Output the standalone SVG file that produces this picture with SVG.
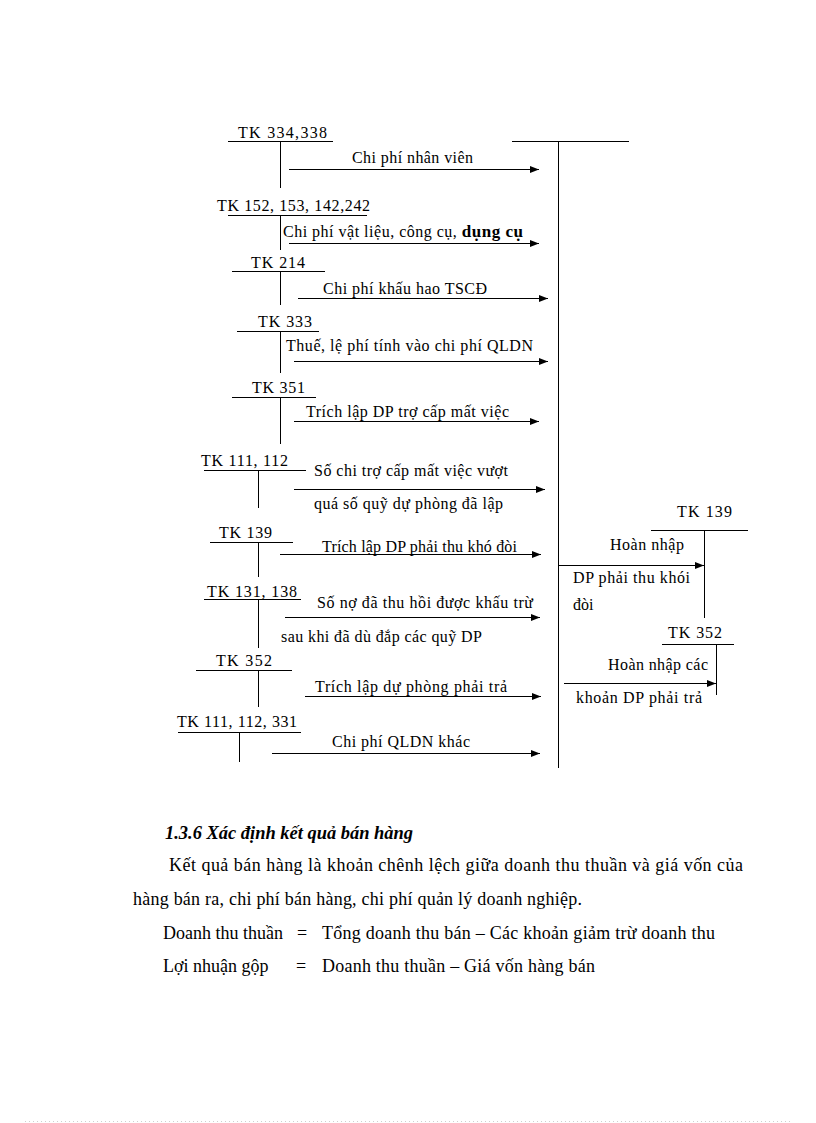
<svg xmlns="http://www.w3.org/2000/svg" width="816" height="1123" viewBox="0 0 816 1123">
<style>
.t{font-family:"Liberation Serif","Times New Roman",serif;font-size:16px;fill:#000}
.b{font-family:"Liberation Serif","Times New Roman",serif;font-size:18px;fill:#000}
.h{font-family:"Liberation Serif","Times New Roman",serif;font-size:18px;font-weight:bold;font-style:italic;fill:#000}
.ln{stroke:#000;stroke-width:1;fill:none}
.ar{stroke:#000;stroke-width:1;fill:none;marker-end:url(#ah)}
</style>
<defs>
<marker id="ah" markerUnits="userSpaceOnUse" markerWidth="9" markerHeight="7" refX="9" refY="3.5" orient="auto">
<path d="M0,0 L9,3.5 L0,7 z" fill="#000"/>
</marker>
</defs>
<rect width="816" height="1123" fill="#fff"/>

<g id="main-account">
<line class="ln" x1="512" y1="141.5" x2="629" y2="141.5"/>
<line class="ln" x1="558.5" y1="141" x2="558.5" y2="768"/>
</g>

<g id="tk334">
<text class="t" x="238" y="138" textLength="89" lengthAdjust="spacing">TK 334,338</text>
<line class="ln" x1="228" y1="141.5" x2="333" y2="141.5"/>
<line class="ln" x1="280.5" y1="141" x2="280.5" y2="188"/>
</g>
<g id="tk152">
<text class="t" x="217" y="211" textLength="153" lengthAdjust="spacing">TK 152, 153, 142,242</text>
<line class="ln" x1="228" y1="215.5" x2="367" y2="215.5"/>
<line class="ln" x1="280.5" y1="215" x2="280.5" y2="250"/>
</g>
<g id="tk214">
<text class="t" x="251" y="268" textLength="54" lengthAdjust="spacing">TK 214</text>
<line class="ln" x1="232" y1="271.5" x2="325" y2="271.5"/>
<line class="ln" x1="280.5" y1="271" x2="280.5" y2="305"/>
</g>
<g id="tk333">
<text class="t" x="258" y="327" textLength="54" lengthAdjust="spacing">TK 333</text>
<line class="ln" x1="237" y1="331.5" x2="319" y2="331.5"/>
<line class="ln" x1="280.5" y1="331" x2="280.5" y2="373"/>
</g>
<g id="tk351">
<text class="t" x="252" y="393" textLength="53" lengthAdjust="spacing">TK 351</text>
<line class="ln" x1="232" y1="397.5" x2="316" y2="397.5"/>
<line class="ln" x1="280.5" y1="397" x2="280.5" y2="444"/>
</g>
<g id="tk111-112">
<text class="t" x="201" y="466" textLength="87" lengthAdjust="spacing">TK 111, 112</text>
<line class="ln" x1="204" y1="470.5" x2="306" y2="470.5"/>
<line class="ln" x1="258.5" y1="470" x2="258.5" y2="508"/>
</g>
<g id="tk139-left">
<text class="t" x="219" y="538" textLength="53" lengthAdjust="spacing">TK 139</text>
<line class="ln" x1="210" y1="542.5" x2="293" y2="542.5"/>
<line class="ln" x1="258.5" y1="542" x2="258.5" y2="577"/>
</g>
<g id="tk131">
<text class="t" x="207" y="597" textLength="90" lengthAdjust="spacing">TK 131, 138</text>
<line class="ln" x1="204" y1="599.5" x2="301" y2="599.5"/>
<line class="ln" x1="258.5" y1="599" x2="258.5" y2="648"/>
</g>
<g id="tk352-left">
<text class="t" x="216" y="666" textLength="56" lengthAdjust="spacing">TK 352</text>
<line class="ln" x1="196" y1="670.5" x2="292" y2="670.5"/>
<line class="ln" x1="258.5" y1="670" x2="258.5" y2="707"/>
</g>
<g id="tk111-112-331">
<text class="t" x="177" y="727" textLength="120" lengthAdjust="spacing">TK 111, 112, 331</text>
<line class="ln" x1="178" y1="732.5" x2="301" y2="732.5"/>
<line class="ln" x1="239.5" y1="732" x2="239.5" y2="762"/>
</g>
<g id="tk139-right">
<text class="t" x="677" y="517" textLength="55" lengthAdjust="spacing">TK 139</text>
<line class="ln" x1="651" y1="530.5" x2="748" y2="530.5"/>
<line class="ln" x1="704.5" y1="530" x2="704.5" y2="618"/>
</g>
<g id="tk352-right">
<text class="t" x="668" y="638" textLength="54" lengthAdjust="spacing">TK 352</text>
<line class="ln" x1="662" y1="644.5" x2="734" y2="644.5"/>
<line class="ln" x1="716.5" y1="644" x2="716.5" y2="695"/>
</g>

<g id="connectors">
<line class="ar" x1="289" y1="169.5" x2="539" y2="169.5"/>
<line class="ar" x1="289" y1="243.5" x2="539" y2="243.5"/>
<line class="ar" x1="298" y1="298.5" x2="548" y2="298.5"/>
<line class="ar" x1="294" y1="361.5" x2="548" y2="361.5"/>
<line class="ar" x1="294" y1="421.5" x2="539" y2="421.5"/>
<line class="ar" x1="294" y1="489.5" x2="545" y2="489.5"/>
<line class="ar" x1="280" y1="554.5" x2="541" y2="554.5"/>
<line class="ar" x1="285" y1="617.5" x2="540" y2="617.5"/>
<line class="ar" x1="305" y1="696.5" x2="541" y2="696.5"/>
<line class="ar" x1="272" y1="753.5" x2="540" y2="753.5"/>
<line class="ar" x1="558" y1="565.5" x2="704" y2="565.5"/>
<line class="ar" x1="564" y1="683.5" x2="716" y2="683.5"/>
</g>

<g id="connector-labels">
<text class="t" x="352" y="163" textLength="121" lengthAdjust="spacing">Chi phí nhân viên</text>
<text class="t" x="283" y="237" textLength="240" lengthAdjust="spacing">Chi phí vật liệu, công cụ, <tspan font-weight="bold" font-size="17">dụng cụ</tspan></text>
<text class="t" x="323" y="294" textLength="164" lengthAdjust="spacing">Chi phí khấu hao TSCĐ</text>
<text class="t" x="286" y="351" textLength="247" lengthAdjust="spacing">Thuế,  lệ phí tính vào  chi phí  QLDN</text>
<text class="t" x="306" y="417" textLength="203" lengthAdjust="spacing">Trích lập DP trợ cấp mất việc</text>
<text class="t" x="314" y="476" textLength="194" lengthAdjust="spacing">Số chi trợ cấp mất việc vượt</text>
<text class="t" x="314" y="509" textLength="189" lengthAdjust="spacing">quá  số quỹ  dự phòng đã lập</text>
<text class="t" x="322" y="552" textLength="195" lengthAdjust="spacing">Trích lập DP phải thu khó đòi</text>
<text class="t" x="317" y="608" textLength="216" lengthAdjust="spacing">Số nợ đã thu hồi được khấu trừ</text>
<text class="t" x="281" y="642" textLength="201" lengthAdjust="spacing">sau khi đã dù đắp các quỹ DP</text>
<text class="t" x="315" y="692" textLength="192" lengthAdjust="spacing">Trích lập dự phòng phải trả</text>
<text class="t" x="332" y="747" textLength="138" lengthAdjust="spacing">Chi phí QLDN khác</text>
<text class="t" x="610" y="550" textLength="74" lengthAdjust="spacing">Hoàn nhập</text>
<text class="t" x="573" y="583" textLength="117" lengthAdjust="spacing">DP phải thu khói</text>
<text class="t" x="573" y="610">đòi</text>
<text class="t" x="608" y="670" textLength="100" lengthAdjust="spacing">Hoàn nhập  các</text>
<text class="t" x="576" y="703" textLength="126" lengthAdjust="spacing">khoản DP phải trả</text>
</g>

<g id="body-text">
<text class="h" x="165" y="839" textLength="248" lengthAdjust="spacingAndGlyphs">1.3.6 Xác định kết quả bán hàng</text>
<text class="b" x="169" y="871" textLength="574" lengthAdjust="spacing">Kết quả bán hàng là khoản chênh lệch giữa doanh thu thuần và giá vốn của</text>
<text class="b" x="133" y="905" textLength="449" lengthAdjust="spacing">hàng bán ra, chi phí bán hàng, chi phí quản lý doanh nghiệp.</text>
<text class="b" x="163" y="939">Doanh thu thuần</text>
<text class="b" x="297" y="939">=</text>
<text class="b" x="322" y="939" textLength="393" lengthAdjust="spacing">Tổng doanh thu bán – Các khoản giảm trừ doanh thu</text>
<text class="b" x="163" y="972">Lợi nhuận gộp</text>
<text class="b" x="296" y="972">=</text>
<text class="b" x="322" y="972" textLength="273" lengthAdjust="spacing">Doanh thu thuần – Giá vốn hàng bán</text>
</g>

<line x1="25" y1="1121.5" x2="792" y2="1121.5" stroke="#cfcfcf" stroke-width="1" stroke-dasharray="1 3"/>
</svg>
